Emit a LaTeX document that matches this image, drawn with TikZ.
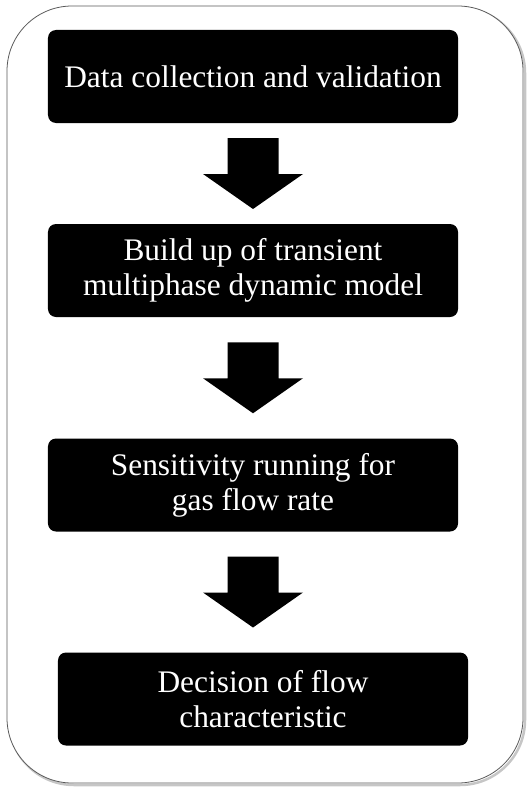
\documentclass[tikz,border=0pt]{standalone}
\usepackage{fontspec}
\setmainfont{Liberation Serif}
\newfontfamily\boxfont{Liberation Serif}
\usepackage{tikz}
\colorlet{colorBox}{black}
\colorlet{colorFrame}{gray!70!black}
\colorlet{colorShadow}{gray!45}
\usetikzlibrary{calc}
\usetikzlibrary{positioning}
\tikzset{
   stepbox/.style={rectangle,rounded corners=8bp,fill=colorBox,text=white,align=center,
                   minimum width=410bp,minimum height=93bp,inner sep=0pt,
                   font=\boxfont\fontsize{31.5}{35}\selectfont},
   frame/.style={rounded corners=65bp,fill=white,draw=colorFrame,line width=0.8bp},
   shadow/.style={rounded corners=65bp,draw=colorShadow,line width=2.5bp},
   blk/.style={fill=colorBox},
}
\newcommand{\blkarrow}[2]{%
  \fill[blk] ($(#1.south)!0.5!(#2.north -| #1.south)$) ++(-25.5,-35.5) -- ++(51,0) -- ++(0,36)
        -- ++(24.5,0) -- ++(-50,35) -- ++(-50,-35) -- ++(24.5,0) -- cycle;}

\begin{document}
\begin{tikzpicture}[x=1bp,y=-1bp]

        \useasboundingbox (0,0) rectangle (532,792);

        \draw[shadow] (9,8) rectangle (525,785);
        \draw[frame]  (7,6) rectangle (523,783);

        \node[stepbox] (data)  at (253, 76.5) {Data collection and validation};
        \node[stepbox] (model) at (253,270.5) {Build up of transient\\multiphase dynamic model};
        \node[stepbox] (sens)  at (253,485)   {Sensitivity running for\\gas flow rate};
        \node[stepbox] (dec)   at (263,699)   {Decision of flow\\characteristic};

        \blkarrow{data}{model}
        \blkarrow{model}{sens}
        \blkarrow{sens}{dec}

      \end{tikzpicture}
\end{document}
